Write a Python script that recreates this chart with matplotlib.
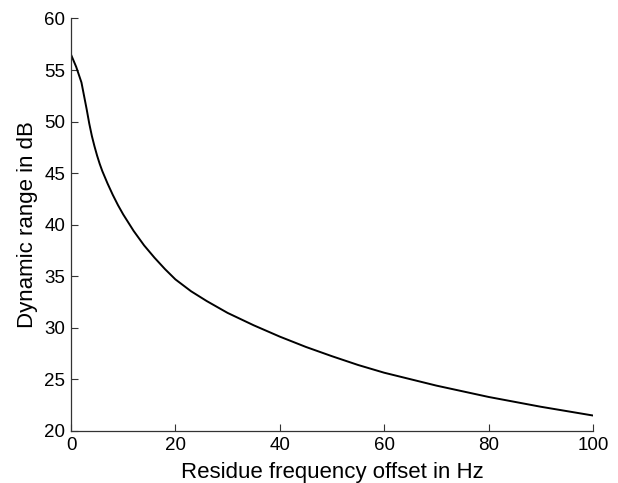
import matplotlib
matplotlib.use('Agg')
import matplotlib.pyplot as plt

plt.rcParams['font.family'] = ['Liberation Sans', 'DejaVu Sans']

# residue frequency offset (Hz) vs dynamic range (dB)
offset_hz = [0, 1, 2, 2.5, 3, 3.5, 4, 4.5, 5, 5.5, 6, 7, 8, 9, 10, 12, 14,
             16, 18, 20, 23, 26, 30, 35, 40, 45, 50, 55, 60, 70, 80, 90, 100]
dyn_range_db = [56.5, 55.3, 53.8, 52.5, 51.2, 49.8, 48.6, 47.6, 46.7, 45.9,
                45.2, 44.0, 42.9, 41.9, 41.0, 39.4, 38.0, 36.8, 35.7, 34.7,
                33.55, 32.6, 31.45, 30.25, 29.15, 28.15, 27.25, 26.4, 25.65,
                24.4, 23.3, 22.35, 21.5]

fig = plt.figure(figsize=(6.18, 4.83), dpi=100)
ax = fig.add_axes([0.1149, 0.1077, 0.8446, 0.854])

ax.plot(offset_hz, dyn_range_db, color='black', linewidth=1.4)

ax.set_xlim(0, 100)
ax.set_ylim(20, 60)
ax.set_xticks([0, 20, 40, 60, 80, 100])
ax.set_yticks([20, 25, 30, 35, 40, 45, 50, 55, 60])

for side in ['top', 'right']:
    ax.spines[side].set_visible(False)
for side in ['left', 'bottom']:
    ax.spines[side].set_color('#333333')
    ax.spines[side].set_linewidth(0.9)

ax.tick_params(direction='in', length=5, width=0.8, colors='#333333',
               labelcolor='black', labelsize=13.5)
ax.tick_params(axis='x', pad=4)
ax.tick_params(axis='y', pad=4)

ax.set_xlabel('Residue frequency offset in Hz', fontsize=16, labelpad=6)
ax.set_ylabel('Dynamic range in dB', fontsize=16, labelpad=5)

fig.savefig('out.png', dpi=100, facecolor='white')
